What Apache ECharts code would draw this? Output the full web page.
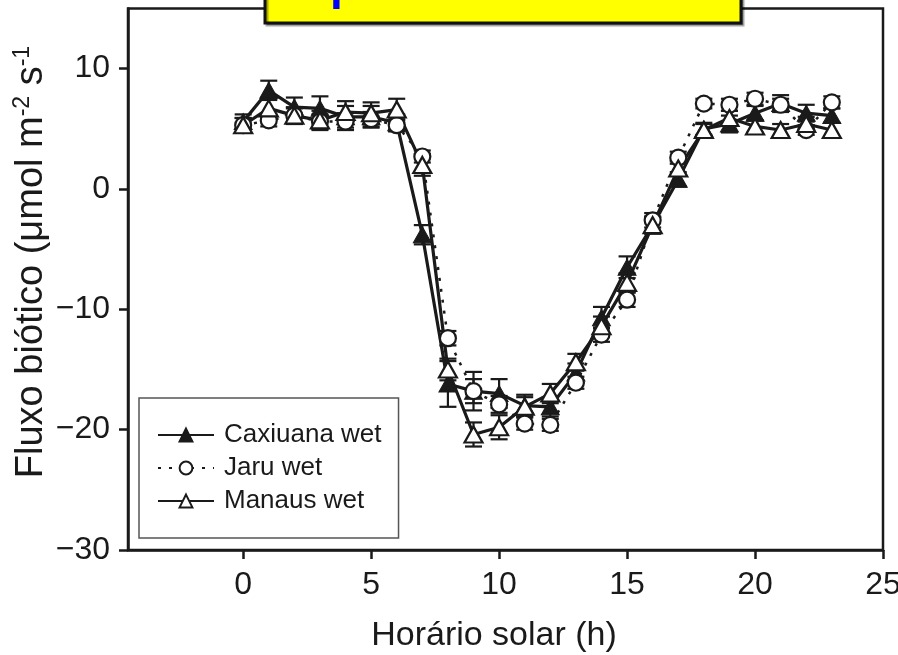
<!DOCTYPE html>
<html>
<head>
<meta charset="utf-8">
<script src="https://cdn.jsdelivr.net/npm/echarts@6/dist/echarts.min.js"></script>
<style>
html,body{margin:0;padding:0;background:#fff;}
#c{width:898px;height:655px;}
</style>
</head>
<body>
<div id="c"></div>
<script>
// ---- data ----
const hours = [0,1,2,3,4,5,6,7,8,9,10,11,12,13,14,15,16,17,18,19,20,21,22,23];
const caxiuana = [5.6, 8.2, 6.8, 6.7, 6.0, 6.0, 5.5, -3.8, -16.2, -16.8, -17.0, -18.0, -18.1, -15.3, -10.7, -6.5, -3.0, 0.8, 5.0, 5.4, 6.3, 7.1, 6.3, 6.1];
const jaru     = [5.3, 5.7, 6.1, 5.6, 5.6, 5.8, 5.3, 2.7, -12.4, -16.8, -17.9, -19.5, -19.6, -16.1, -12.1, -9.2, -2.6, 2.6, 7.1, 7.0, 7.5, 7.0, 4.9, 7.2];
const manaus   = [5.3, 6.7, 6.1, 5.7, 6.4, 6.3, 6.6, 2.0, -15.0, -20.4, -19.8, -18.1, -17.0, -14.4, -11.4, -7.8, -3.0, 1.7, 4.9, 5.9, 5.2, 4.9, 5.4, 4.9];
const caxErr   = [0.6,0.8,0.8,1.0,0.9,0.9,0.7,0.8,1.9,1.0,1.2,0.9,0.8,0.8,0.9,0.9,0.7,0.6,0.5,0.7,0.6,0.7,0.7,0.6];
const jaruErr  = [0.6,0.5,0.6,0.6,0.7,0.6,0.5,0.5,0.6,1.6,0.7,0.5,0.5,0.5,0.6,0.6,0.6,0.5,0.4,0.5,0.5,0.5,0.4,0.5];
const manErr   = [0.6,0.8,0.7,0.8,0.9,0.9,0.9,0.9,0.9,1.0,1.0,0.8,0.8,0.7,0.8,0.8,0.7,0.6,0.5,0.6,0.5,0.5,0.6,0.6];
const xTicks = [0,5,10,15,20,25];
const yTicks = [-30,-20,-10,0,10];
const seriesNames = ['Caxiuana wet','Jaru wet','Manaus wet'];
const titleText = 'período chuvoso';
const xName = 'Horário solar (h)';

const FONT = '"Liberation Sans", Arial, Helvetica, sans-serif';
const INK = '#1a1a1a';

function pairs(vals){ return hours.map((h,i)=>[h, vals[i]]); }
function errData(vals, errs){ return hours.map((h,i)=>[h, vals[i]-errs[i], vals[i]+errs[i]]); }
function errSeries(vals, errs){
  return {
    type:'custom', silent:true, z:1,
    data: errData(vals, errs),
    renderItem: function(params, api){
      const x = api.value(0);
      const p1 = api.coord([x, api.value(1)]);
      const p2 = api.coord([x, api.value(2)]);
      const w = 8.5;
      const st = {stroke: INK, lineWidth: 2.2};
      return {type:'group', children:[
        {type:'line', shape:{x1:p1[0],y1:p1[1],x2:p2[0],y2:p2[1]}, style:st},
        {type:'line', shape:{x1:p1[0]-w,y1:p1[1],x2:p1[0]+w,y2:p1[1]}, style:st},
        {type:'line', shape:{x1:p2[0]-w,y1:p2[1],x2:p2[0]+w,y2:p2[1]}, style:st}
      ]};
    }
  };
}

const chart = echarts.init(document.getElementById('c'), null, {renderer:'canvas'});
const option = {
  backgroundColor:'#fff',
  animation:false,
  textStyle:{fontFamily:FONT},
  grid:{left:128, right:15, top:8.5, bottom:105, show:true, borderColor:INK, borderWidth:2.5, backgroundColor:'transparent', outerBoundsMode:'none'},
  xAxis:{
    type:'value', min:-4.5, max:25,
    axisLine:{show:true, onZero:false, lineStyle:{color:INK, width:2.5}},
    axisTick:{show:true, inside:false, length:9, lineStyle:{color:INK, width:2.5}, customValues:xTicks},
    axisLabel:{show:true, margin:19, color:INK, fontSize:32, fontFamily:FONT, customValues:xTicks},
    splitLine:{show:false}
  },
  yAxis:{
    type:'value', min:-30, max:15,
    axisLine:{show:true, onZero:false, lineStyle:{color:INK, width:2.5}},
    axisTick:{show:true, inside:false, length:9, lineStyle:{color:INK, width:2.5}, customValues:yTicks},
    axisLabel:{show:true, margin:18, color:INK, fontSize:32, fontFamily:FONT, customValues:yTicks,
      formatter: v => (v<0 ? '\u2212'+Math.abs(v) : String(v))},
    splitLine:{show:false}
  },
  legend:{
    data: seriesNames,
    orient:'vertical', left:139, top:398,
    padding:[24,17,24,18],
    itemGap:7, itemWidth:56, itemHeight:16,
    backgroundColor:'#fff', borderColor:'#555', borderWidth:1.5, borderRadius:0,
    textStyle:{fontSize:26, color:INK, fontFamily:FONT, padding:[0,0,0,5]},
    z:10
  },
  series:[
    errSeries(caxiuana, caxErr),
    errSeries(jaru, jaruErr),
    errSeries(manaus, manErr),
    {
      name:seriesNames[0], type:'line', data:pairs(caxiuana), z:3,
      symbol:'triangle', symbolSize:[18,16], showAllSymbol:true,
      lineStyle:{color:INK, width:3.2},
      itemStyle:{color:INK, borderColor:INK, borderWidth:1}
    },
    {
      name:seriesNames[1], type:'line', data:pairs(jaru), z:3,
      symbol:'circle', symbolSize:16, showAllSymbol:true,
      lineStyle:{color:INK, width:2.5, type:[3,8]},
      itemStyle:{color:'#fff', borderColor:INK, borderWidth:2.2}
    },
    {
      name:seriesNames[2], type:'line', data:pairs(manaus), z:3,
      symbol:'triangle', symbolSize:[18,16], showAllSymbol:true,
      lineStyle:{color:INK, width:3.2},
      itemStyle:{color:'#fff', borderColor:INK, borderWidth:2.2}
    }
  ],
  graphic:[
    {
      type:'rect', z:100,
      shape:{x:265, y:-40, width:476, height:63},
      style:{fill:'#ffff00', stroke:'#111', lineWidth:3, shadowColor:'rgba(0,0,0,0.35)', shadowOffsetX:2, shadowOffsetY:2, shadowBlur:1}
    },
    {
      type:'text', z:101, x:330, y:-14,
      style:{text:titleText, fill:'#0000ff', font:'bold 46px '+FONT, textAlign:'left', textVerticalAlign:'middle'}
    },
    {
      type:'text', z:50, x:494, y:636,
      style:{text:xName, fill:INK, font:'34px '+FONT, textAlign:'center', textVerticalAlign:'middle'}
    },
    {
      type:'text', z:50, x:32, y:262, rotation:Math.PI/2,
      style:{
        text:'{a|Fluxo biótico (μmol m}{s|-2}{a| s}{s|-1}',
        textAlign:'center', textVerticalAlign:'middle',
        rich:{
          a:{fontSize:38, fontFamily:FONT, fill:INK, color:INK},
          s:{fontSize:23, fontFamily:FONT, fill:INK, color:INK, padding:[0,0,18,0]}
        }
      }
    }
  ]
};
chart.setOption(option);
</script>
</body>
</html>
